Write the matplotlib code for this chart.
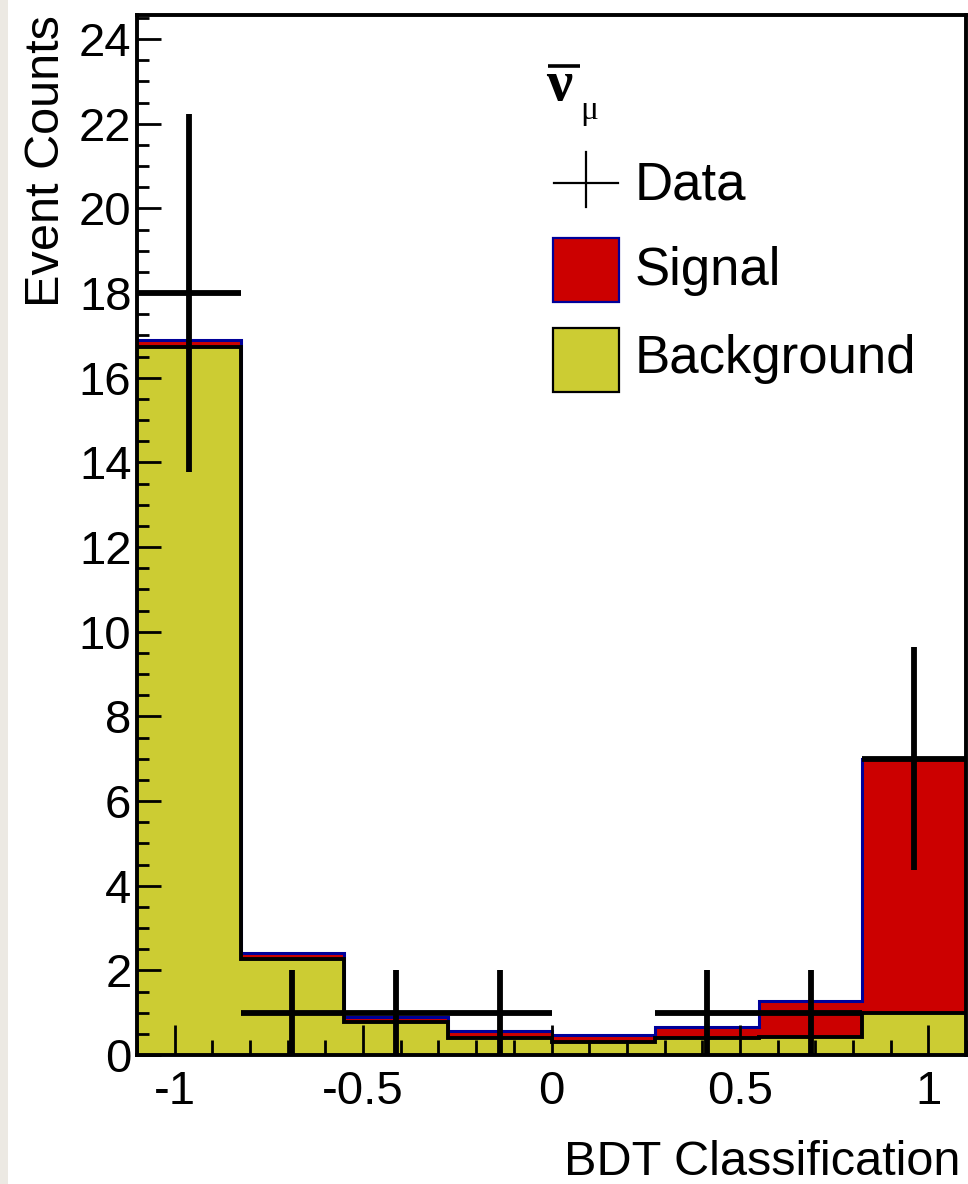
import numpy as np
import matplotlib
matplotlib.use("Agg")
import matplotlib.pyplot as plt
from matplotlib.patches import Rectangle
from matplotlib.lines import Line2D
from matplotlib.ticker import MultipleLocator

plt.rcParams['font.family'] = ['Liberation Sans', 'DejaVu Sans']
plt.rcParams['axes.unicode_minus'] = False

# ---- data ----
bin_edges = [-1.1, -0.825, -0.55, -0.275, 0.0, 0.275, 0.55, 0.825, 1.1]
background = [16.73, 2.27, 0.78, 0.40, 0.31, 0.40, 0.43, 0.99]
signal = [0.16, 0.14, 0.12, 0.17, 0.16, 0.26, 0.85, 6.01]
data_counts = [18, 1, 1, 1, 0, 1, 1, 7]
data_err = [4.24, 1.0, 1.0, 1.0, 0.0, 1.0, 1.0, 2.63]
x_ticks = [-1, -0.5, 0, 0.5, 1]
x_ticklabels = ['-1', '-0.5', '0', '0.5', '1']
y_ticks = [0, 2, 4, 6, 8, 10, 12, 14, 16, 18, 20, 22, 24]

YELLOW = '#CCCC33'
RED = '#CC0000'
BLUE = '#000099'

W, H = 968, 1184
fig = plt.figure(figsize=(W / 100, H / 100), dpi=100)
fig.patch.set_facecolor('white')
# textured page strip on the left
fig.add_artist(Rectangle((0, 0), 8 / W, 1, transform=fig.transFigure,
                         facecolor='#ECE9E3', edgecolor='none', zorder=-10))

L, R, T, B = 137, 966, 15, 1055
ax = fig.add_axes([L / W, (H - B) / H, (R - L) / W, (B - T) / H])

edges = np.array(bin_edges)
bg = np.array(background)
tot = bg + np.array(signal)

ax.stairs(tot, edges, fill=True, facecolor=RED, edgecolor='none', zorder=1)
ax.stairs(tot, edges, baseline=None, color=BLUE, linewidth=2.2, zorder=2)
ax.stairs(bg, edges, fill=True, facecolor=YELLOW, edgecolor='none', zorder=3)
ax.stairs(bg, edges, baseline=None, color='black', linewidth=2.8, zorder=4)

centers = 0.5 * (edges[:-1] + edges[1:])
half = 0.5 * np.diff(edges)
dc = np.array(data_counts, dtype=float)
de = np.array(data_err)
m = dc > 0
ax.errorbar(centers[m], dc[m], xerr=half[m], yerr=de[m], fmt='none',
            ecolor='black', elinewidth=4.2, capsize=0, zorder=6)

ax.set_xlim(-1.1, 1.1)
ax.set_ylim(0, 24.567)
ax.set_xticks(x_ticks)
ax.set_xticklabels(x_ticklabels)
ax.set_yticks(y_ticks)
ax.xaxis.set_minor_locator(MultipleLocator(0.1))
ax.yaxis.set_minor_locator(MultipleLocator(0.5))
ax.tick_params(axis='both', which='both', direction='in', top=False, right=False,
               width=2.0, labelsize=34, colors='black')
ax.tick_params(axis='x', which='major', length=21.6, pad=11)
ax.tick_params(axis='x', which='minor', length=10.8)
ax.tick_params(axis='y', which='major', length=17.3, pad=4)
ax.tick_params(axis='y', which='minor', length=8.6)
for sp in ax.spines.values():
    sp.set_linewidth(2.8)
    sp.set_zorder(8)
ax.xaxis.set_zorder(9)
ax.yaxis.set_zorder(9)

# axis titles
fig.text(47 / W, 1 - 15 / H, 'Event Counts', rotation=90, ha='center', va='top',
         fontsize=35)
fig.text(960 / W, 1 - 1175 / H, 'BDT Classification', ha='right', va='baseline',
         fontsize=35)

# legend (drawn in axes-fraction coordinates)
def ax_xy(px, py):
    return ((px - L) / (R - L), (B - py) / (B - T))

tf = ax.transAxes
x0, y0 = ax_xy(546, 100)
ax.text(x0, y0, 'ν', transform=tf, fontsize=42, fontweight='bold',
        family=['Liberation Serif', 'DejaVu Serif'],
        ha='left', va='baseline', zorder=10)
a = ax_xy(548, 66); b = ax_xy(580, 66)
ax.add_line(Line2D([a[0], b[0]], [a[1], b[1]], transform=tf, color='black',
                   linewidth=2.6, solid_capstyle='butt', zorder=10))
x1, y1 = ax_xy(580, 119)
ax.text(x1, y1, 'μ', transform=tf, fontsize=24,
        family=['Liberation Serif', 'DejaVu Serif'],
        ha='left', va='baseline', zorder=10)

a = ax_xy(554, 183); b = ax_xy(618, 183)
ax.add_line(Line2D([a[0], b[0]], [a[1], b[1]], transform=tf, color='black',
                   linewidth=1.6, zorder=10))
a = ax_xy(586, 152); b = ax_xy(586, 207)
ax.add_line(Line2D([a[0], b[0]], [a[1], b[1]], transform=tf, color='black',
                   linewidth=1.6, zorder=10))

for (ytop, fc, ec) in [(238, RED, BLUE), (328, YELLOW, 'black')]:
    p0 = ax_xy(553, ytop + 64)
    p1 = ax_xy(619, ytop)
    ax.add_patch(Rectangle(p0, p1[0] - p0[0], p1[1] - p0[1], transform=tf,
                           facecolor=fc, edgecolor=ec, linewidth=1.6, zorder=10))

for label, base in [('Data', 200), ('Signal', 285), ('Background', 373)]:
    tx, ty = ax_xy(635, base)
    ax.text(tx, ty, label, transform=tf, fontsize=38, ha='left', va='baseline',
            zorder=10)

fig.savefig('out.png', dpi=100)
